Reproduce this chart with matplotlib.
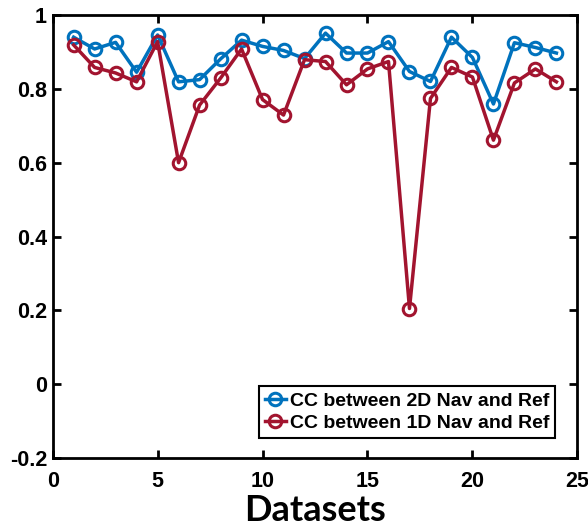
import numpy as np
import matplotlib
matplotlib.use("Agg")
import matplotlib.pyplot as plt
from matplotlib.ticker import FuncFormatter

# Данные
datasets = list(range(1, 25))
cc_2d = [0.94, 0.908, 0.926, 0.845, 0.946, 0.819, 0.825, 0.881, 0.932, 0.915, 0.904, 0.882,
         0.951, 0.897, 0.897, 0.928, 0.847, 0.82, 0.94, 0.885, 0.759, 0.925, 0.912, 0.897]
cc_1d = [0.919, 0.858, 0.843, 0.819, 0.928, 0.6, 0.756, 0.829, 0.908, 0.771, 0.729, 0.879,
         0.874, 0.811, 0.854, 0.874, 0.205, 0.774, 0.858, 0.832, 0.661, 0.816, 0.854, 0.819]
labels = ["CC between 2D Nav and Ref", "CC between 1D Nav and Ref"]
xticks = [0, 5, 10, 15, 20, 25]
yticks = [-0.2, 0, 0.2, 0.4, 0.6, 0.8, 1]

plt.rcParams['font.family'] = ['Liberation Sans', 'DejaVu Sans']

fig = plt.figure(figsize=(5.88, 5.29), dpi=100)
ax = fig.add_axes([0.0895, 0.1342, 0.8925, 0.8374])

ax.plot(datasets, cc_2d, '-o', color='#0072BD', lw=2.5, ms=9, mew=2.2,
        mfc='none', label=labels[0])
ax.plot(datasets, cc_1d, '-o', color='#A2142F', lw=2.5, ms=9, mew=2.2,
        mfc='none', label=labels[1])

ax.set_xlim(0, 25)
ax.set_ylim(-0.2, 1)
ax.set_xticks(xticks)
ax.set_yticks(yticks)
ax.yaxis.set_major_formatter(FuncFormatter(lambda v, p: f'{v:g}'))
ax.tick_params(direction='in', length=6, width=2, top=True, right=True,
               labelsize=15.5)
ax.tick_params(axis='x', pad=9)
ax.tick_params(axis='y', pad=4)
for lab in ax.get_xticklabels() + ax.get_yticklabels():
    lab.set_fontweight('bold')
for s in ax.spines.values():
    s.set_linewidth(2)

ax.set_xlabel('Datasets', fontsize=26, fontweight='bold',
              family=['Lato', 'DejaVu Sans'], labelpad=2)

leg = ax.legend(loc='lower right', bbox_to_anchor=(0.958, 0.045),
                prop={'weight': 'bold', 'size': 14}, handlelength=1.1,
                handletextpad=0.2, borderpad=0.3, labelspacing=0.25,
                borderaxespad=0, fancybox=False, framealpha=1,
                edgecolor='black')
leg.get_frame().set_linewidth(1.5)

fig.savefig('out.png', dpi=100)
